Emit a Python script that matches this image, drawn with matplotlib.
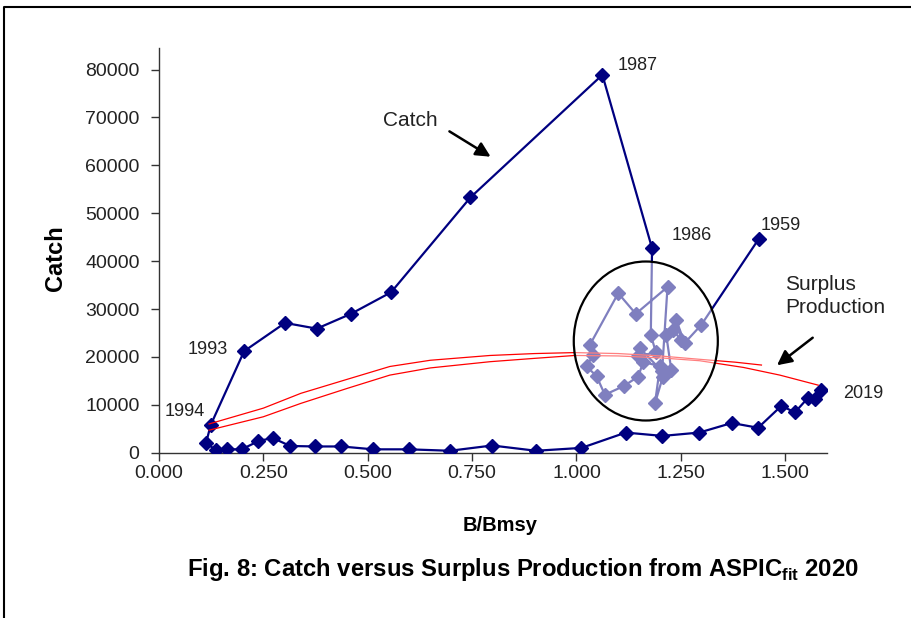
import numpy as np
import matplotlib
matplotlib.use("Agg")
import matplotlib.pyplot as plt
from matplotlib.patches import Ellipse
from matplotlib.lines import Line2D

plt.rcParams['font.family'] = ['Liberation Sans', 'DejaVu Sans']
plt.rcParams['mathtext.fontset'] = 'custom'
plt.rcParams['mathtext.bf'] = 'Liberation Sans:bold'

# ASPIC fit, one point per year 1959..2019
first_year = 1959
bbmsy = [1.437, 1.299, 1.259, 1.239, 1.251, 1.231, 1.215, 1.227, 1.207, 1.188,
         1.200, 1.160, 1.148, 1.113, 1.068, 1.048, 1.024, 1.040, 1.032, 1.100,
         1.142, 1.218, 1.205, 1.152, 1.148, 1.190, 1.178, 1.181, 1.062, 0.746,
         0.556, 0.460, 0.378, 0.302, 0.204, 0.124, 0.113, 0.136, 0.162, 0.198,
         0.238, 0.272, 0.314, 0.374, 0.437, 0.513, 0.599, 0.697, 0.798, 0.903,
         1.012, 1.118, 1.206, 1.294, 1.372, 1.435, 1.491, 1.523, 1.555, 1.571,
         1.585]
catch = [44700, 26700, 22900, 27700, 23500, 25600, 24600, 17300, 15900, 10300,
         18000, 19000, 15900, 13900, 12100, 16000, 18000, 20400, 22500, 33300,
         29000, 34600, 17000, 21800, 20100, 21000, 24600, 42700, 78900, 53300,
         33500, 29000, 25900, 27100, 21200, 5800, 2100, 500, 700, 700,
         2400, 3100, 1400, 1300, 1300, 700, 700, 400, 1500, 400,
         1000, 4200, 3500, 4200, 6200, 5200, 9800, 8400, 11500, 11200,
         13000]

# surplus production curves
sp1_b = [0.12, 0.25, 0.34, 0.45, 0.553, 0.65, 0.793, 0.90, 0.996, 1.10, 1.20, 1.295, 1.38, 1.443]
sp1_y = [6000, 9300, 12400, 15300, 18000, 19300, 20300, 20700, 20900, 20700, 20200, 19500, 18900, 18300]
sp2_b = [0.12, 0.25, 0.34, 0.45, 0.553, 0.65, 0.793, 0.90, 0.996, 1.10, 1.20, 1.295, 1.40, 1.487, 1.579]
sp2_y = [4700, 7500, 10300, 13400, 16200, 17700, 19000, 19700, 20300, 20200, 19800, 19200, 17800, 16200, 14100]

# year labels: (year, offset px, alignment)
year_labels = [(1987, (15, 9), 'left'), (1986, (20, 13), 'left'), (1959, (2, 13), 'left'),
               (1993, (-16, 2), 'right'), (1994, (-6, 13), 'right'), (2019, (22, -3), 'left')]

navy = '#000080'
txt = '#222222'

fig = plt.figure(figsize=(9.12, 6.18), dpi=100)
ax = fig.add_axes([0.1743, 0.2675, 0.7325, 0.6548])

ax.plot(bbmsy, catch, color=navy, lw=1.6, marker='D', ms=7, mec=navy, mfc=navy, zorder=3)
ax.plot(sp1_b, sp1_y, color='red', lw=0.9, zorder=4)
ax.plot(sp2_b, sp2_y, color='red', lw=0.9, zorder=4)

# the circled early years get washed out by a half-white ellipse
ell = Ellipse((1.166, 23320), 0.345, 33200, facecolor=(1, 1, 1, 0.5),
              edgecolor='black', lw=1.6, zorder=5)
ax.add_patch(ell)

for yr, off, ha in year_labels:
    i = yr - first_year
    ax.annotate(str(yr), (bbmsy[i], catch[i]), xytext=off, textcoords='offset pixels',
                ha=ha, va='center', fontsize=13, color=txt, zorder=6)

ax.annotate('', xy=(0.800, 61500), xytext=(0.690, 67400),
            arrowprops=dict(arrowstyle='-|>', color='black', lw=1.8, mutation_scale=22))
ax.text(0.603, 69440, 'Catch', fontsize=15, color=txt, ha='center', va='center')
ax.annotate('', xy=(1.475, 17900), xytext=(1.571, 24360),
            arrowprops=dict(arrowstyle='-|>', color='black', lw=1.8, mutation_scale=22))
ax.text(1.500, 32700, 'Surplus\nProduction', fontsize=15, color=txt, ha='left',
        va='center', linespacing=1.25)

ax.set_xlim(0, 1.6)
ax.set_ylim(0, 84500)
ax.set_xticks(np.arange(0, 1.51, 0.25))
ax.set_xticklabels(['%.3f' % v for v in np.arange(0, 1.51, 0.25)])
ax.set_yticks(np.arange(0, 80001, 10000))
ax.set_yticklabels([str(v) for v in range(0, 80001, 10000)])
ax.tick_params(direction='out', length=6, width=1, pad=3, colors='#333333', labelsize=14,
               labelcolor=txt)
ax.tick_params(axis='y', pad=8)
for s in ['top', 'right']:
    ax.spines[s].set_visible(False)
for s in ['left', 'bottom']:
    ax.spines[s].set_color('#333333')
    ax.spines[s].set_linewidth(1)

ax.set_xlabel('B/Bmsy', fontsize=14.5, fontweight='bold')
ax.xaxis.set_label_coords(0.51, -0.156)
ax.set_ylabel('Catch', fontsize=17, fontweight='bold')
ax.yaxis.set_label_coords(-0.138, 0.48)

fig.text(0.573, 0.079, r'Fig. 8: Catch versus Surplus Production from ASPIC$_{\mathbf{fit}}$ 2020',
         ha='center', va='center', fontsize=17.2, fontweight='bold', color='black')

# frame around the figure (top and left edges)
fig.add_artist(Line2D([4 / 912, 4 / 912, 1.0], [0.0, 1 - 7 / 618, 1 - 7 / 618],
                      transform=fig.transFigure, color='black', lw=1.5))

fig.savefig('out.png', dpi=100)
